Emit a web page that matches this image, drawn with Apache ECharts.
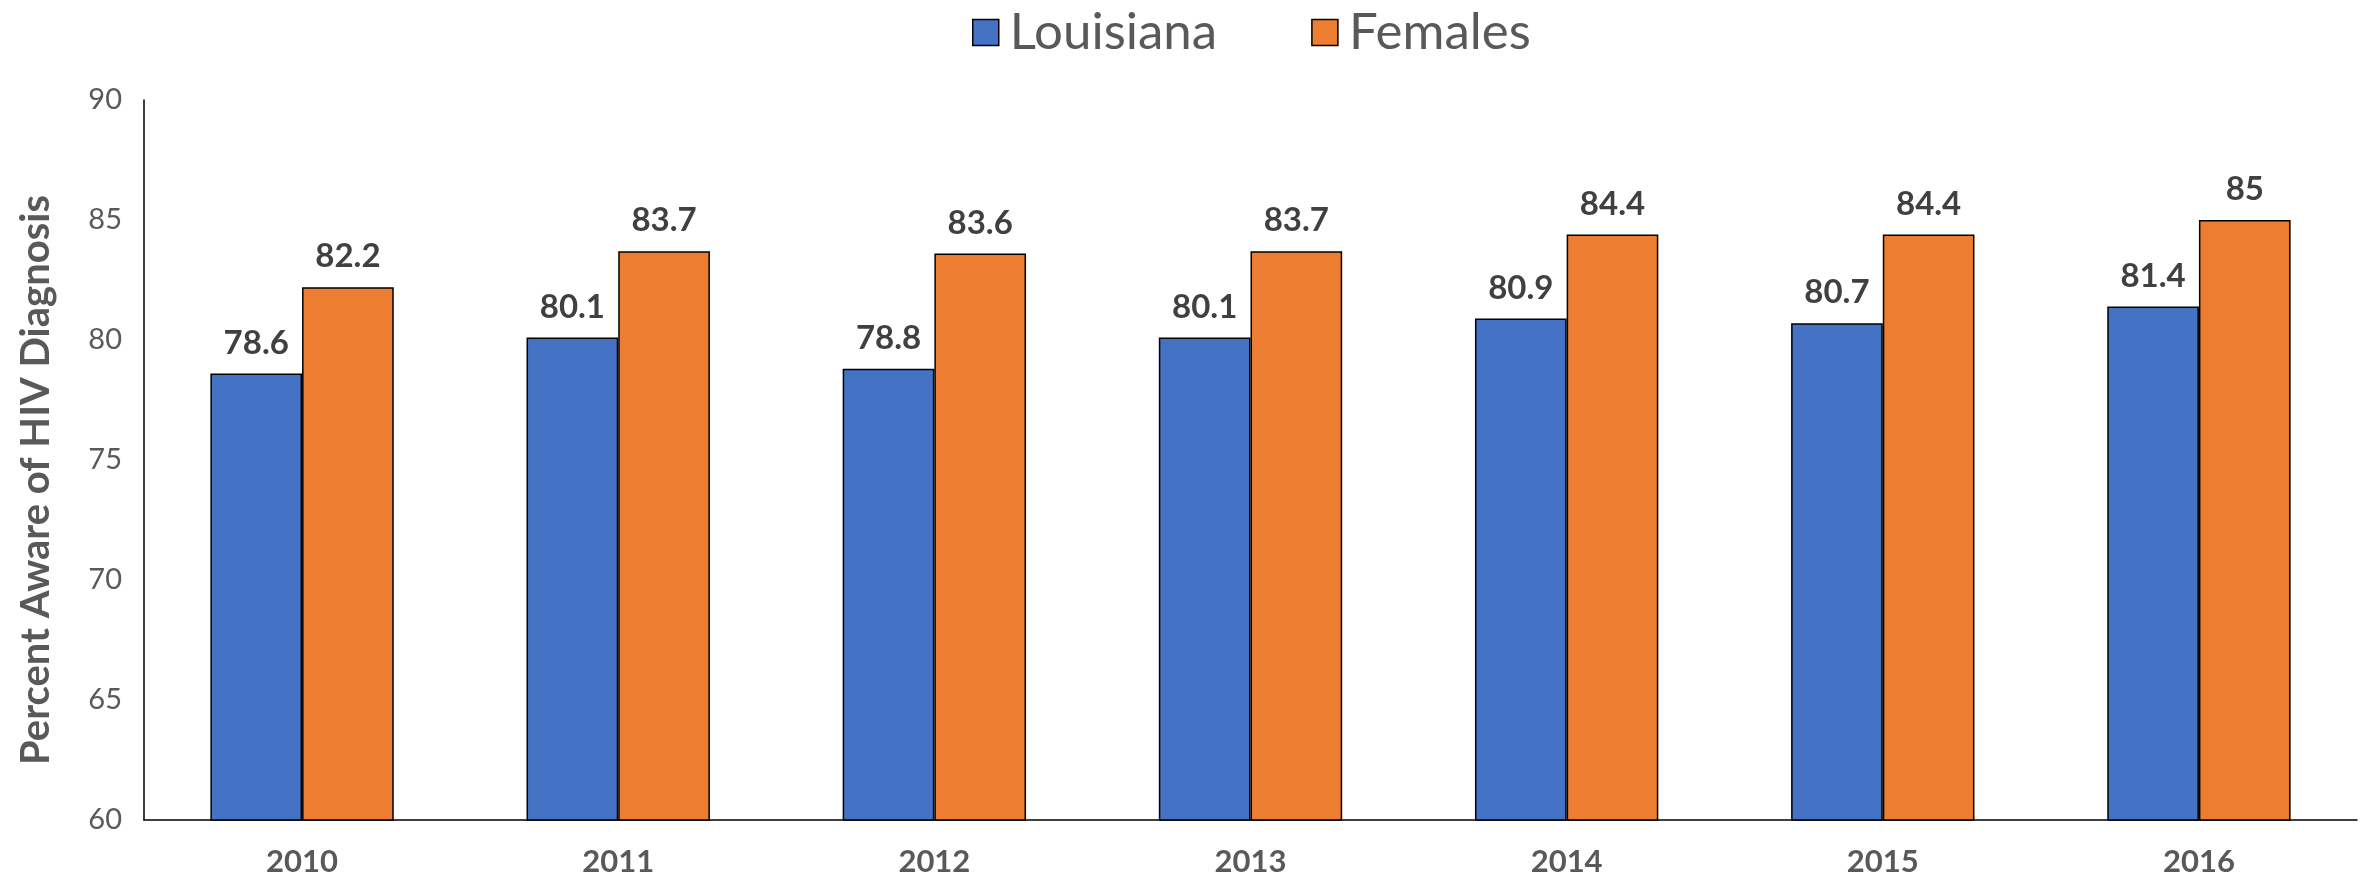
<!DOCTYPE html>
<html>
<head>
<meta charset="utf-8">
<script src="https://cdn.jsdelivr.net/npm/echarts@6/dist/echarts.min.js"></script>
<style>
  html, body { margin: 0; padding: 0; background: #fff; }
  #chart { width: 2369px; height: 882px; }
</style>
</head>
<body>
<div id="chart"></div>
<script>
  var years = ['2010', '2011', '2012', '2013', '2014', '2015', '2016']
  var louisiana = [78.6, 80.1, 78.8, 80.1, 80.9, 80.7, 81.4]
  var females = [82.2, 83.7, 83.6, 83.7, 84.4, 84.4, 85]

  var font = 'Lato, "Open Sans", sans-serif'

  var labelStyle = {
    show: true,
    position: 'top',
    distance: 14,
    fontFamily: font,
    fontWeight: 'bold',
    fontSize: 33,
    color: '#404040'
  }

  var chart = echarts.init(document.getElementById('chart'))
  chart.setOption({
    animation: false,
    legend: {
      top: 2,
      left: 967,
      icon: 'rect',
      itemWidth: 26,
      itemHeight: 26,
      itemGap: 94,
      itemStyle: { borderColor: '#000', borderWidth: 1.5 },
      textStyle: { fontFamily: font, fontSize: 51, color: '#595959', padding: [0, 0, 0, 6] },
      data: ['Louisiana', 'Females']
    },
    grid: { left: 144, right: 12, top: 100, bottom: 62 },
    xAxis: {
      type: 'category',
      data: years,
      axisLine: { lineStyle: { color: '#000', width: 1.5 } },
      axisTick: { show: false },
      axisLabel: { fontFamily: font, fontWeight: 'bold', fontSize: 31, color: '#595959', margin: 26 }
    },
    yAxis: {
      type: 'value',
      min: 60,
      max: 90,
      interval: 5,
      name: 'Percent Aware of HIV Diagnosis',
      nameLocation: 'middle',
      nameGap: 88,
      nameTextStyle: { fontFamily: font, fontWeight: 'bold', fontSize: 40, color: '#595959', padding: [0, 40, 0, 0] },
      axisLine: { show: true, lineStyle: { color: '#000', width: 1.5 } },
      axisTick: { show: false },
      splitLine: { show: false },
      axisLabel: { fontFamily: font, fontSize: 29, color: '#595959', margin: 22 }
    },
    series: [
      {
        name: 'Louisiana',
        type: 'bar',
        data: louisiana,
        barGap: '0%',
        barCategoryGap: '42%',
        itemStyle: { color: '#4472C4', borderColor: '#000', borderWidth: 1.5 },
        label: labelStyle
      },
      {
        name: 'Females',
        type: 'bar',
        data: females,
        itemStyle: { color: '#ED7D31', borderColor: '#000', borderWidth: 1.5 },
        label: labelStyle
      }
    ]
  })
</script>
</body>
</html>
